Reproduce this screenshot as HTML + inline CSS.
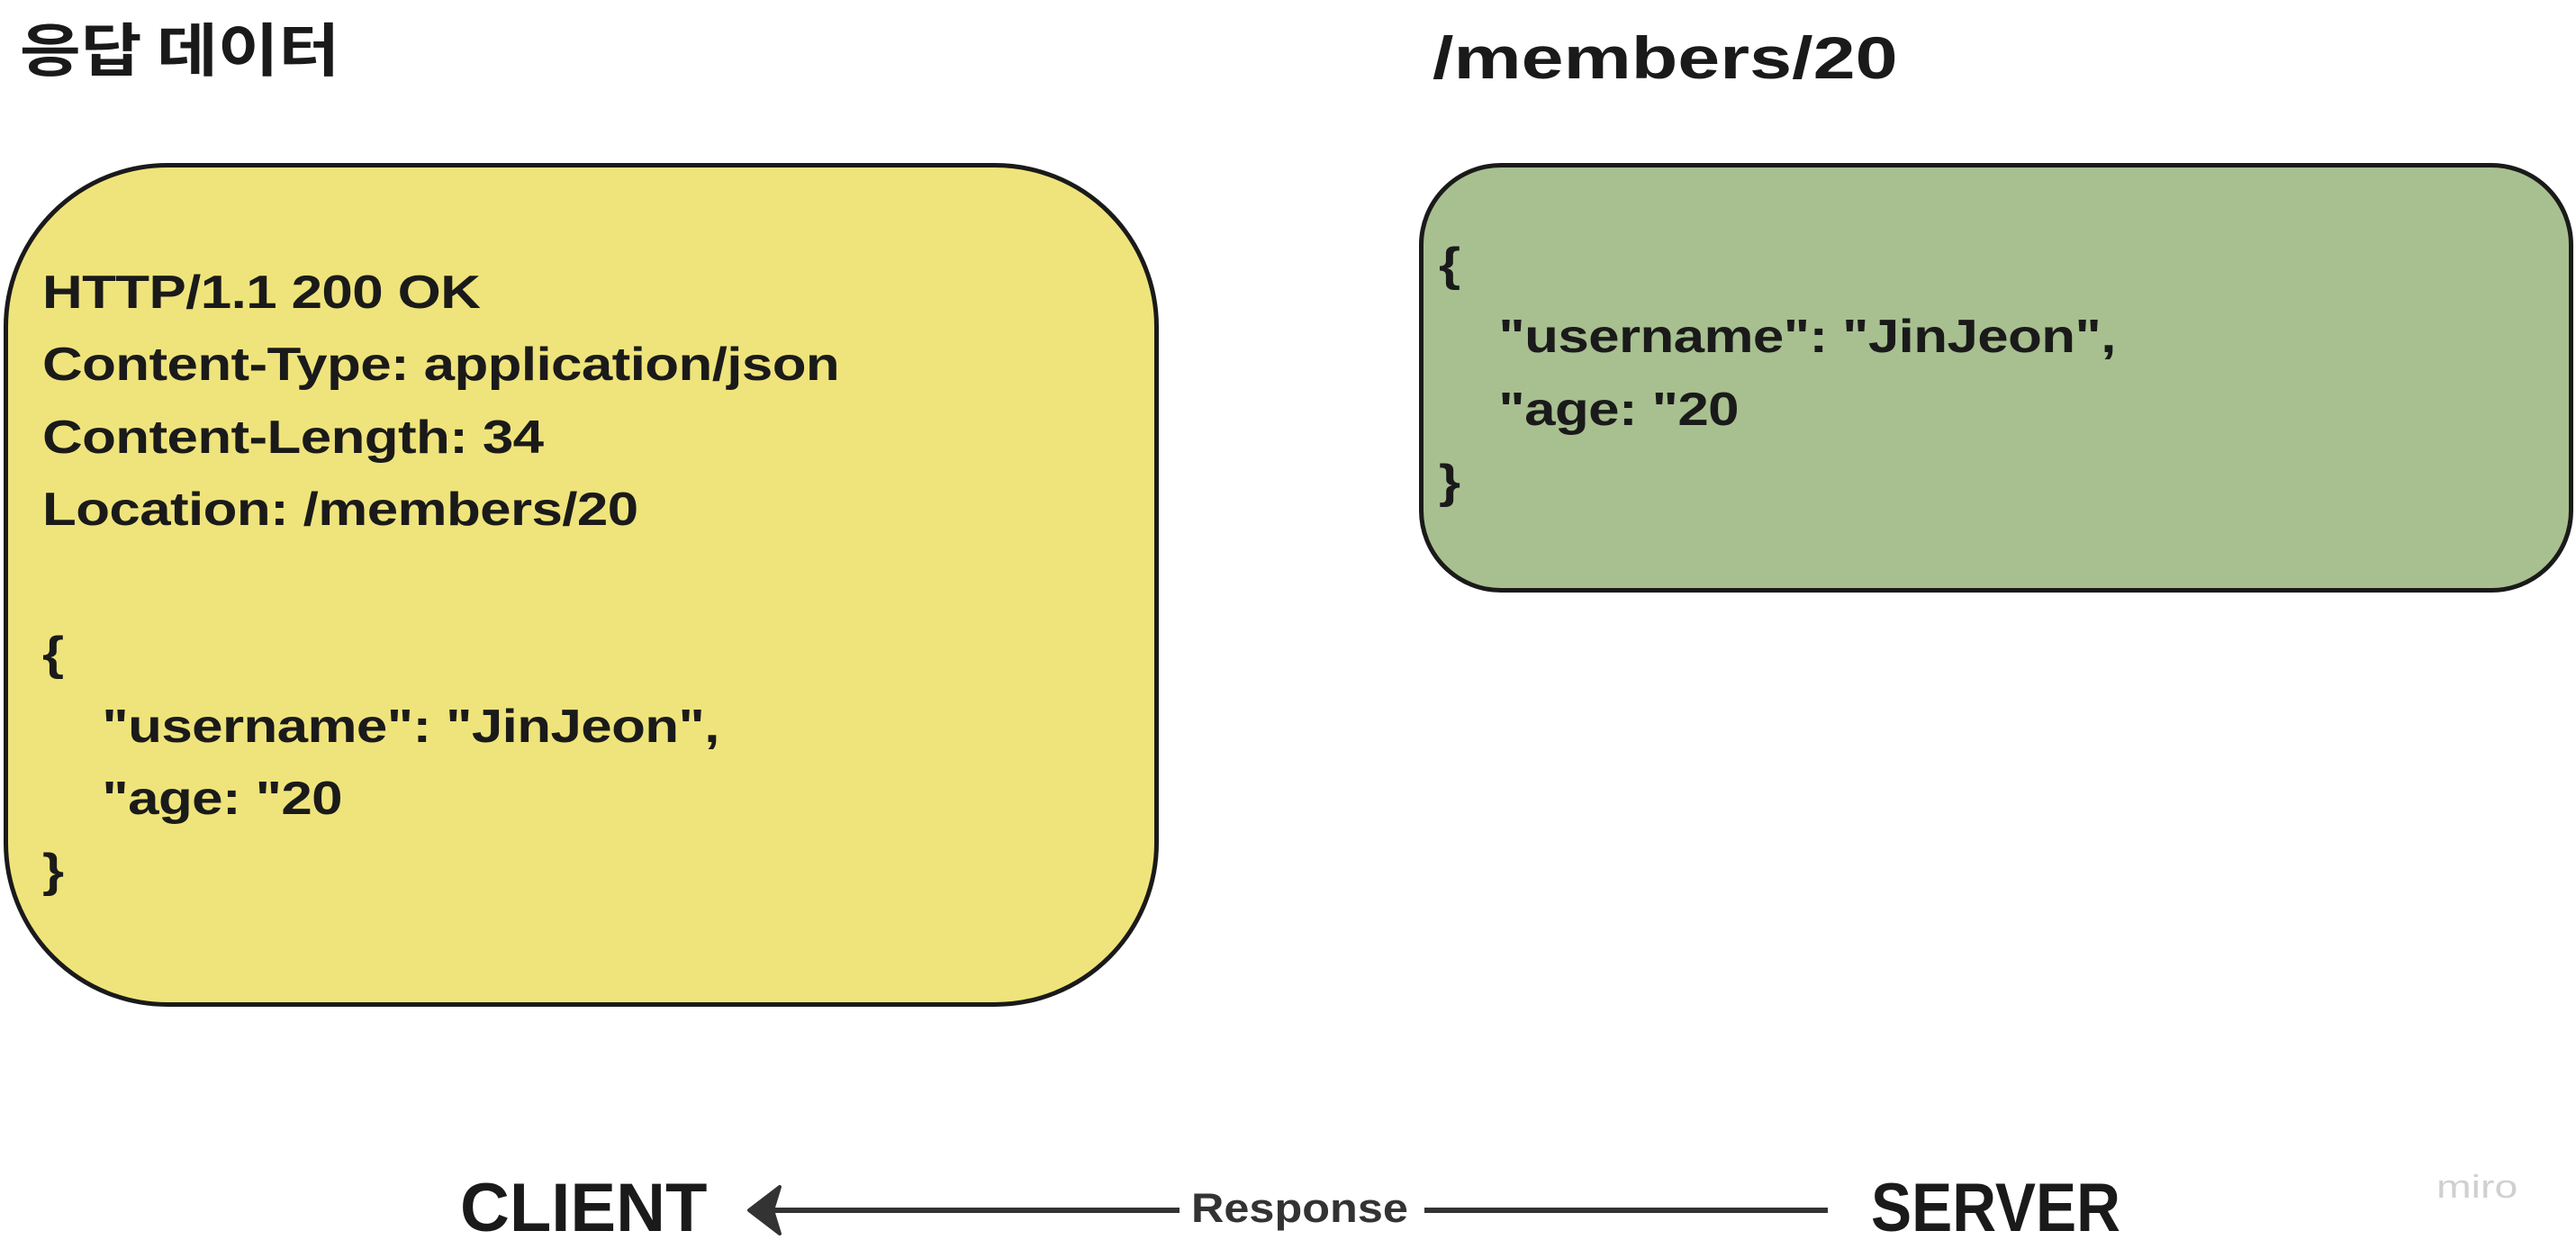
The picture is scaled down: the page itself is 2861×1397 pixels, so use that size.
<!DOCTYPE html>
<html><head><meta charset="utf-8"><style>
body{margin:0;width:2861px;height:1397px;background:#fff;position:relative;overflow:hidden;font-family:"Liberation Sans","Noto Sans CJK KR",sans-serif;font-weight:bold;color:#1a1a1a}
.a{position:absolute;line-height:1;white-space:pre;transform-origin:0 0}
.box{position:absolute;box-sizing:border-box;border:5px solid #1a1a1a}
.t{position:absolute;font-size:52px;line-height:80.3px;white-space:pre;letter-spacing:-0.5px;transform:scaleX(1.19);transform-origin:0 0}
</style></head><body>
<div class="a" style="left:22px;top:20px;font-size:64px;font-family:'Noto Sans CJK KR',sans-serif;font-weight:bold;transform:scaleX(1.15)">응답 데이터</div>
<div class="a" style="left:1591px;top:31px;font-size:66px;transform:scaleX(1.28)">/members/20</div>
<div class="box" style="left:4px;top:181px;width:1283px;height:937px;border-radius:182px;background:#efe47b"></div>
<div class="box" style="left:1576px;top:181px;width:1282px;height:477px;border-radius:91px;background:#a8c090"></div>
<div class="t" style="left:47px;top:285px">HTTP/1.1 200 OK
Content-Type: application/json
Content-Length: 34
Location: /members/20

{
    "username": "JinJeon",
    "age: "20
}</div>
<div class="t" style="left:1598px;top:254px">{
    "username": "JinJeon",
    "age: "20
}</div>
<div class="a" style="left:511px;top:1304px;font-size:76px">CLIENT</div>
<div class="a" style="left:2078px;top:1304px;font-size:76px;transform:scaleX(0.89)">SERVER</div>
<div class="a" style="left:1323px;top:1319px;font-size:45px;color:#333;transform:scaleX(1.12)">Response</div>
<div class="a" style="left:2706px;top:1300px;font-size:36px;color:#d0d0d0;font-weight:normal;transform:scaleX(1.29)">miro</div>
<svg style="position:absolute;left:0;top:0" width="2861" height="1397">
<line x1="860" y1="1344" x2="1310" y2="1344" stroke="#333" stroke-width="6"/>
<line x1="1582" y1="1344" x2="2030" y2="1344" stroke="#333" stroke-width="6"/>
<polygon points="832,1344 866,1318 858,1344 866,1370" fill="#333" stroke="#333" stroke-width="4" stroke-linejoin="round"/>
</svg>
</body></html>
